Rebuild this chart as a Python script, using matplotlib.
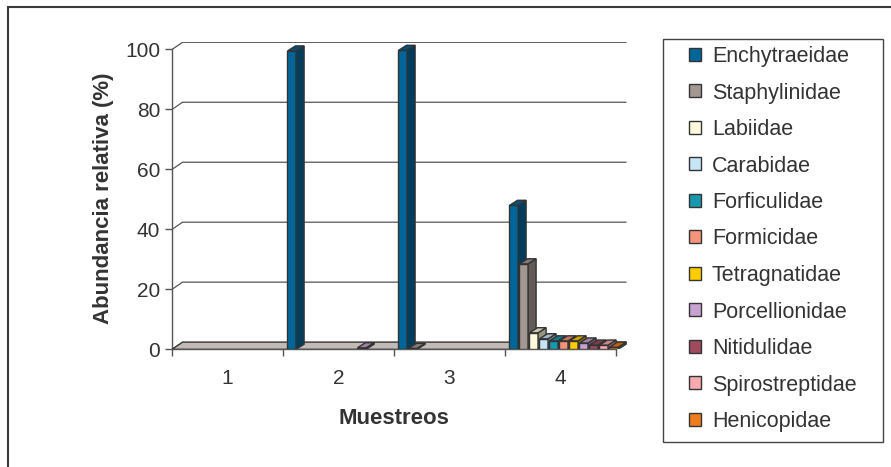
import numpy as np
import matplotlib
matplotlib.use("Agg")
import matplotlib.pyplot as plt
from matplotlib.patches import Polygon, Rectangle, Patch
from matplotlib.colors import to_rgb

plt.rcParams['font.family'] = ['Liberation Sans', 'DejaVu Sans']

# relative abundance (%) of each family in samplings 1-4
muestreos = ['1', '2', '3', '4']
familias = ['Enchytraeidae', 'Staphylinidae', 'Labiidae', 'Carabidae',
            'Forficulidae', 'Formicidae', 'Tetragnatidae', 'Porcellionidae',
            'Nitidulidae', 'Spirostreptidae', 'Henicopidae']

enchytraeidae = [0, 99.5, 99.7, 48.0]
staphylinidae = [0, 0, 0.3, 28.5]
labiidae = [0, 0, 0, 5.5]
carabidae = [0, 0, 0, 3.5]
forficulidae = [0, 0, 0, 2.8]
formicidae = [0, 0, 0, 2.8]
tetragnatidae = [0, 0, 0, 2.8]
porcellionidae = [0, 0.5, 0, 2.1]
nitidulidae = [0, 0, 0, 1.4]
spirostreptidae = [0, 0, 0, 1.4]
henicopidae = [0, 0, 0, 0.7]

series = [enchytraeidae, staphylinidae, labiidae, carabidae, forficulidae,
          formicidae, tetragnatidae, porcellionidae, nitidulidae,
          spirostreptidae, henicopidae]

colores = ['#00669a', '#a39791', '#fffbdc', '#c6e6f6', '#1898ae', '#f4947a',
           '#ffcc00', '#c8a2d0', '#a04a5e', '#f7aab0', '#ee7d1e']

borde = '#333333'
gris = '#555555'

# pseudo-3D geometry, in data units (1 sampling = 1 unit in x)
paso = 10.0 / 111
ancho = 8.6 / 111
margen = 4.5 / 111
prof_x, prof_y = 8.0 / 111, 1.7      # depth of each column
piso_x, piso_y = 0.095, 2.4          # depth of floor / back wall
n_cat = len(muestreos)


def sombra(c, f):
    r, g, b = to_rgb(c)
    return (r * f, g * f, b * f)


fig = plt.figure(figsize=(8.91, 4.67), dpi=100)
W, H = 891.0, 467.0
ax = fig.add_axes([172 / W, 1 - 349.3 / H, 456.2 / W, 307.3 / H])
ax.set_xlim(0, 4.11)
ax.set_ylim(0, 102.5)

# back wall gridlines with the diagonal to the front axis
for v in range(20, 101, 20):
    ax.plot([0, piso_x, n_cat + piso_x], [v, v + piso_y, v + piso_y],
            color=gris, lw=0.9, zorder=0.5, solid_capstyle='butt')

# floor
ax.add_patch(Polygon([(0, 0), (piso_x, piso_y), (n_cat + piso_x, piso_y), (n_cat, 0)],
                     closed=True, fc='#c2bab6', ec=borde, lw=1.0, zorder=1))

z = 2.0
for i in range(n_cat):
    for j, (vals, col) in enumerate(zip(series, colores)):
        v = vals[i]
        if v <= 0:
            continue
        x = i + margen + j * paso
        ax.bar(x, v, width=ancho, align='edge', color=col, edgecolor=borde,
               lw=1.0, zorder=z)
        xr = x + ancho
        ax.add_patch(Polygon([(xr, 0), (xr + prof_x, prof_y), (xr + prof_x, v + prof_y), (xr, v)],
                             closed=True, fc=sombra(col, 0.6), ec=borde, lw=1.0, zorder=z))
        ax.add_patch(Polygon([(x, v), (x + prof_x, v + prof_y), (xr + prof_x, v + prof_y), (xr, v)],
                             closed=True, fc=sombra(col, 0.8), ec=borde, lw=1.0, zorder=z))
        z += 0.01

# axes
for s in ['top', 'right']:
    ax.spines[s].set_visible(False)
ax.spines['left'].set_bounds(0, 100)
ax.spines['bottom'].set_bounds(0, n_cat)
for s in ['left', 'bottom']:
    ax.spines[s].set_color(gris)
    ax.spines[s].set_linewidth(1.0)
    ax.spines[s].set_zorder(0.6)

ax.set_yticks(range(0, 101, 20))
ax.tick_params(axis='y', length=5, width=1.0, color=gris, pad=3.5,
               labelsize=15, labelcolor='#333333')
ax.set_xticks(range(n_cat + 1))
ax.set_xticklabels([])
ax.set_xticks(np.arange(n_cat) + 0.5, minor=True)
ax.set_xticklabels(muestreos, minor=True)
ax.tick_params(axis='x', which='major', length=5, width=1.0, color=gris)
ax.tick_params(axis='x', which='minor', length=0, pad=14,
               labelsize=15, labelcolor='#333333')

fig.text(103 / W, 1 - 198 / H, 'Abundancia relativa (%)', rotation=90,
         ha='center', va='center', fontsize=16, fontweight='bold', color='#333333')
fig.text(393.5 / W, 1 - 418 / H, 'Muestreos', ha='center', va='center',
         fontsize=16, fontweight='bold', color='#333333')

# legend
handles = [Patch(fc=c, ec=borde, lw=1.0) for c in colores]
fig.legend(handles, familias, loc='upper left', bbox_to_anchor=(689 / W, 1 - 46 / H),
           frameon=False, fontsize=15.5, borderpad=0, borderaxespad=0,
           handlelength=0.56, handleheight=0.56, handletextpad=0.5,
           labelspacing=0.72, labelcolor='#333333')
fig.add_artist(Rectangle((663 / W, 1 - 442 / H), 220 / W, 403 / H,
                         transform=fig.transFigure, fill=False, ec='#444444', lw=1.0))

# outer frame
fig.add_artist(Rectangle((8 / W, -0.05), 1.2, 1.05 - 7 / H,
                         transform=fig.transFigure, fill=False, ec='#3a3a3a', lw=1.5))

fig.savefig('out.png', dpi=100)
